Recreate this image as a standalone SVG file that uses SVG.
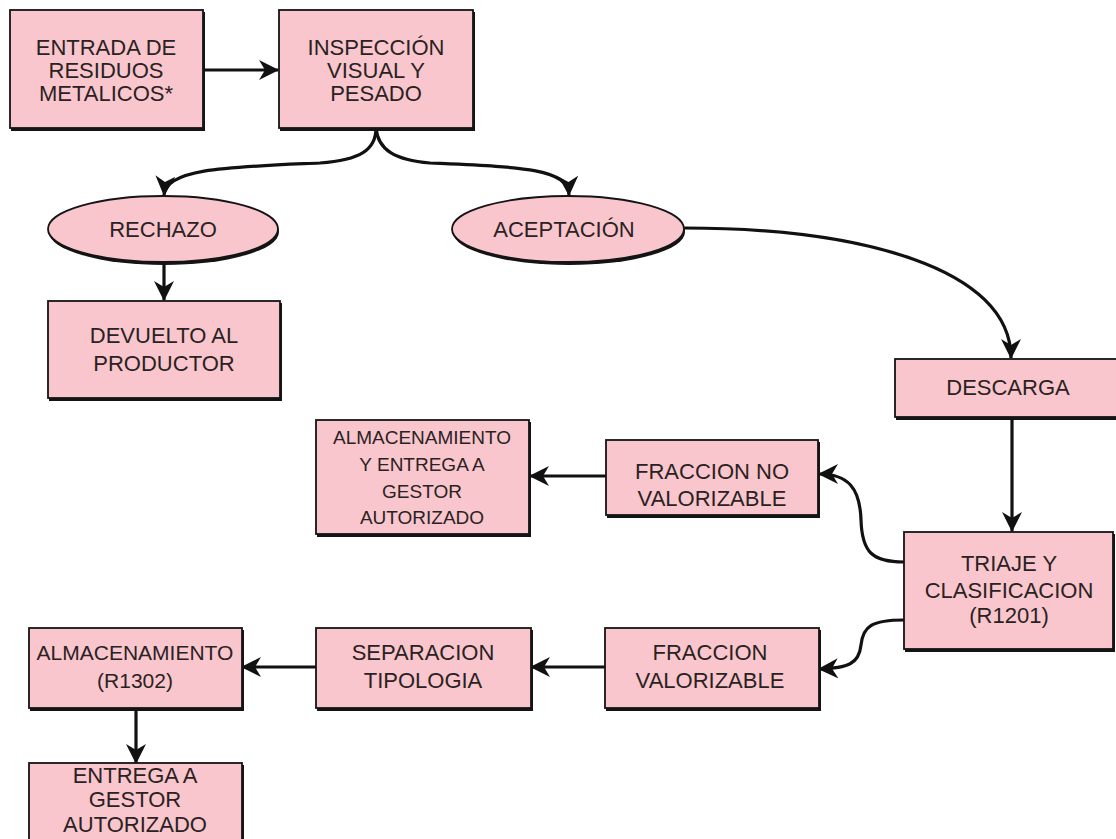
<svg xmlns="http://www.w3.org/2000/svg" width="1116" height="839" viewBox="0 0 1116 839">
<style>
.box{fill:#F9C6CD;stroke:#141414;stroke-width:1.8}
.sh{fill:#141414}
text{font-family:"Liberation Sans",Arial,sans-serif;fill:#2a2222;text-anchor:middle;font-size:22px}
.t21{font-size:21px}
.t19{font-size:19px}
.c{fill:none;stroke:#111;stroke-width:3.2;marker-end:url(#ah)}
</style>
<defs>
<marker id="ah" markerUnits="userSpaceOnUse" markerWidth="22" markerHeight="20" refX="19" refY="10" orient="auto">
<path d="M0,0 L20,10 L0,20 L6,10 z" fill="#111"/>
</marker>
</defs>
<rect width="1116" height="839" fill="#fff"/>
<g id="connectors">
<path class="c" d="M203,70 L278,70"/>
<path class="c" d="M376,128 C376,150 360,160 320,163 C230,167 166,168 164,195"/>
<path class="c" d="M376,128 C378,150 395,160 430,163 C520,167 568,168 569,195"/>
<path class="c" d="M164,263 L164,300"/>
<path class="c" d="M684,228 C860,228 1011,268 1011,358"/>
<path class="c" d="M1012,418 L1012,531"/>
<path class="c" d="M904,562 C872,562 862,552 861,520 C860,488 848,474 819,474"/>
<path class="c" d="M904,620 C872,620 863,626 861,645 C859,664 848,668 819,669"/>
<path class="c" d="M606,476 L530,476"/>
<path class="c" d="M605,667 L531,667"/>
<path class="c" d="M316,667 L242,667"/>
<path class="c" d="M136,709 L136,763"/>
</g>
<g id="n_entrada">
<rect class="sh" x="11" y="12" width="194" height="119"/>
<rect class="box" x="10" y="10" width="193" height="118"/>
<text x="106" y="55">ENTRADA DE</text>
<text x="106" y="78">RESIDUOS</text>
<text x="106" y="101">METALICOS*</text>
</g>
<g id="n_inspeccion">
<rect class="sh" x="280" y="12" width="195" height="119"/>
<rect class="box" x="279" y="10" width="194" height="118"/>
<text x="376" y="55">INSPECCIÓN</text>
<text x="376" y="78">VISUAL Y</text>
<text x="376" y="101">PESADO</text>
</g>
<g id="n_rechazo">
<ellipse class="sh" cx="164" cy="232" rx="115" ry="33"/>
<ellipse class="box" cx="163" cy="229" rx="115" ry="33"/>
<text x="163" y="237">RECHAZO</text>
</g>
<g id="n_aceptacion">
<ellipse class="sh" cx="569" cy="232" rx="116" ry="33"/>
<ellipse class="box" cx="568" cy="229" rx="116" ry="33"/>
<text x="564" y="237">ACEPTACIÓN</text>
</g>
<g id="n_devuelto">
<rect class="sh" x="49" y="303" width="233" height="98"/>
<rect class="box" x="48" y="301" width="232" height="97"/>
<text x="164" y="343">DEVUELTO AL</text>
<text x="164" y="371">PRODUCTOR</text>
</g>
<g id="n_descarga">
<rect class="sh" x="896" y="361" width="226" height="59"/>
<rect class="box" x="895" y="359" width="226" height="58"/>
<text x="1008" y="395">DESCARGA</text>
</g>
<g id="n_triaje">
<rect class="sh" x="905" y="534" width="210" height="118"/>
<rect class="box" x="904" y="532" width="209" height="117"/>
<text x="1009" y="571">TRIAJE Y</text>
<text x="1009" y="598">CLASIFICACION</text>
<text x="1009" y="623">(R1201)</text>
</g>
<g id="n_fraccion_no">
<rect class="sh" x="607" y="442" width="213" height="76"/>
<rect class="box" x="606" y="440" width="212" height="75"/>
<text x="712" y="479">FRACCION NO</text>
<text x="712" y="506">VALORIZABLE</text>
</g>
<g id="n_almacen_entrega">
<rect class="sh" x="317" y="422" width="214" height="115"/>
<rect class="box" x="316" y="420" width="213" height="114"/>
<text class="t19" x="422" y="444">ALMACENAMIENTO</text>
<text class="t19" x="422" y="471">Y ENTREGA A</text>
<text class="t19" x="422" y="498">GESTOR</text>
<text class="t19" x="422" y="524">AUTORIZADO</text>
</g>
<g id="n_fraccion_val">
<rect class="sh" x="606" y="630" width="215" height="81"/>
<rect class="box" x="605" y="628" width="214" height="80"/>
<text x="710" y="660">FRACCION</text>
<text x="710" y="688">VALORIZABLE</text>
</g>
<g id="n_separacion">
<rect class="sh" x="317" y="630" width="216" height="81"/>
<rect class="box" x="316" y="628" width="215" height="80"/>
<text x="423" y="660">SEPARACION</text>
<text x="423" y="688">TIPOLOGIA</text>
</g>
<g id="n_almacen_r1302">
<rect class="sh" x="30" y="630" width="214" height="81"/>
<rect class="box" x="29" y="628" width="213" height="80"/>
<text class="t21" x="135" y="660">ALMACENAMIENTO</text>
<text class="t21" x="135" y="688">(R1302)</text>
</g>
<g id="n_entrega">
<rect class="sh" x="30" y="765" width="214" height="90"/>
<rect class="box" x="29" y="763" width="213" height="90"/>
<text x="135" y="783">ENTREGA A</text>
<text x="135" y="807">GESTOR</text>
<text x="135" y="832">AUTORIZADO</text>
</g>
</svg>
